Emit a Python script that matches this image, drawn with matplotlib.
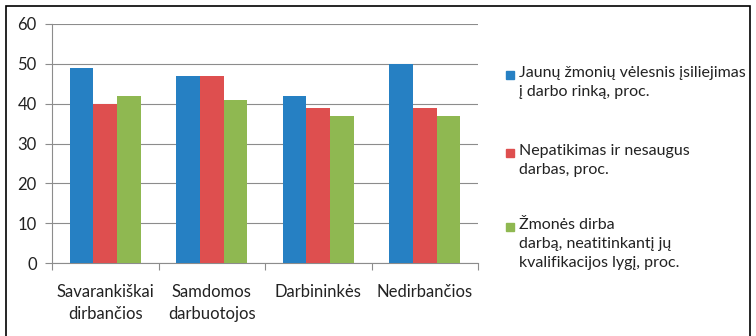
import matplotlib.pyplot as plt
import numpy as np

plt.rcParams['font.family'] = ['Lato', 'DejaVu Sans']

kategorijos = ['Savarankiškai\ndirbančios', 'Samdomos\ndarbuotojos', 'Darbininkės', 'Nedirbančios']
jauni = [49, 47, 42, 50]
nepatikimas = [40, 47, 39, 39]
neatitinka = [42, 41, 37, 37]
serijos = ['Jaunų žmonių vėlesnis įsiliejimas\nį darbo rinką, proc.',
           'Nepatikimas ir nesaugus\ndarbas, proc.',
           'Žmonės dirba\ndarbą, neatitinkantį jų\nkvalifikacijos lygį, proc.']
spalvos = ['#2680c3', '#de4f4f', '#8fb851']
legendos_y = [75, 153, 227]

W, H = 756, 336
fig = plt.figure(figsize=(W / 100, H / 100), dpi=100)
ax = fig.add_axes([52 / W, 1 - 263 / H, (478 - 52) / W, (263 - 24) / H])

x = np.arange(len(kategorijos))
w = 0.222
for i, (vals, c) in enumerate(zip([jauni, nepatikimas, neatitinka], spalvos)):
    ax.bar(x + (i - 1) * w, vals, w, color=c, zorder=3)

ax.set_xlim(-0.5, 3.5)
ax.set_ylim(0, 60)
ax.set_yticks(range(0, 61, 10))
ax.yaxis.grid(True, color='#8c8c8c', linewidth=0.8, zorder=0)
for s in ['top', 'right']:
    ax.spines[s].set_visible(False)
for s in ['left', 'bottom']:
    ax.spines[s].set_color('#8c8c8c')
ax.set_xticks(np.arange(-0.5, 4, 1))
ax.set_xticklabels([])
ax.set_xticks(x, minor=True)
ax.set_xticklabels(kategorijos, minor=True, fontsize=12, color='#222222', linespacing=1.45)
ax.tick_params(axis='x', which='minor', length=0, pad=15)
ax.tick_params(axis='x', which='major', length=5, color='#8c8c8c')
ax.tick_params(axis='y', length=5, color='#8c8c8c', labelsize=12, labelcolor='#222222', pad=6)

# legenda rankiniu budu, kad zymekliai butu ties pirma eilute
for txt, c, yy in zip(serijos, spalvos, legendos_y):
    fig.add_artist(plt.Rectangle((506 / W, 1 - (yy + 4) / H), 8 / W, 8 / H,
                                 transform=fig.transFigure, color=c))
    fig.text(519 / W, 1 - (yy - 9) / H, txt, fontsize=11.5, color='#222222',
             va='top', ha='left', linespacing=1.45)

fig.add_artist(plt.Rectangle((6 / W, -0.1), (750 - 6) / W, 1.1 - 6 / H, transform=fig.transFigure,
                             fill=False, edgecolor='black', linewidth=1.2))

fig.savefig('out.png', dpi=100)
